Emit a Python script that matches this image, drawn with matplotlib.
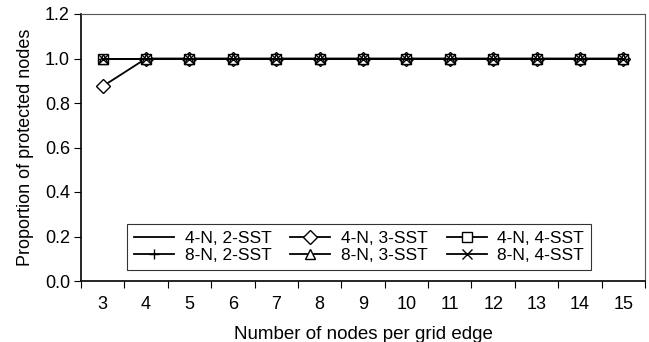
import numpy as np
import matplotlib
matplotlib.use('Agg')
import matplotlib.pyplot as plt

plt.rcParams['font.family'] = ['Liberation Sans', 'DejaVu Sans']

# data
nodes = [3, 4, 5, 6, 7, 8, 9, 10, 11, 12, 13, 14, 15]
n4_sst2 = [1.0] * 13
n4_sst3 = [0.875] + [1.0] * 12
n4_sst4 = [1.0] * 13
n8_sst2 = [1.0] * 13
n8_sst3 = [1.0] * 13
n8_sst4 = [1.0] * 13

series = [
    ('4-N, 2-SST', n4_sst2, None),
    ('4-N, 3-SST', n4_sst3, 'D'),
    ('4-N, 4-SST', n4_sst4, 's'),
    ('8-N, 2-SST', n8_sst2, '+'),
    ('8-N, 3-SST', n8_sst3, '^'),
    ('8-N, 4-SST', n8_sst4, 'x'),
]

fig = plt.figure(figsize=(6.49, 3.42), dpi=100)
ax = fig.add_axes([81 / 649, 1 - 281 / 342, 564 / 649, 267 / 342])

x = np.arange(len(nodes))
handles = []
for label, vals, mk in series:
    h, = ax.plot(x, vals, color='black', lw=1.3, marker=mk, markersize=7,
                 markerfacecolor='white', markeredgecolor='black',
                 markeredgewidth=1.0, label=label)
    handles.append(h)

ax.set_xlim(-0.5, len(nodes) - 0.5)
ax.set_ylim(0, 1.2)
ax.set_yticks(np.arange(0, 1.21, 0.2))
ax.set_yticklabels(['%.1f' % v for v in np.arange(0, 1.21, 0.2)])
ax.set_xticks(np.arange(-0.5, len(nodes), 1.0))
ax.set_xticklabels([])
ax.set_xticks(x, minor=True)
ax.set_xticklabels([str(n) for n in nodes], minor=True)
ax.tick_params(axis='x', which='minor', length=0, pad=11, labelsize=13)
ax.tick_params(axis='x', which='major', length=5, direction='out')
ax.tick_params(axis='y', length=5, direction='out', labelsize=13, pad=3)

for s in ['top', 'right']:
    ax.spines[s].set_color('#555555')
ax.spines['left'].set_linewidth(1.2)
ax.spines['bottom'].set_linewidth(1.2)

ax.set_xlabel('Number of nodes per grid edge', fontsize=13.5, labelpad=9)
ax.set_ylabel('Proportion of protected nodes', fontsize=13, labelpad=8)

# legend filled row by row like the original
order = [0, 3, 1, 4, 2, 5]
leg = ax.legend([handles[i] for i in order], [series[i][0] for i in order],
                ncol=3, loc='lower left', bbox_to_anchor=(0.082, 0.041),
                frameon=True, fancybox=False, edgecolor='black',
                fontsize=12.5, handlelength=2.3, columnspacing=1.1,
                borderpad=0.4, labelspacing=0.1, handletextpad=0.6,
                borderaxespad=0.0)
leg.get_frame().set_linewidth(0.8)

fig.savefig('out.png', dpi=100)
